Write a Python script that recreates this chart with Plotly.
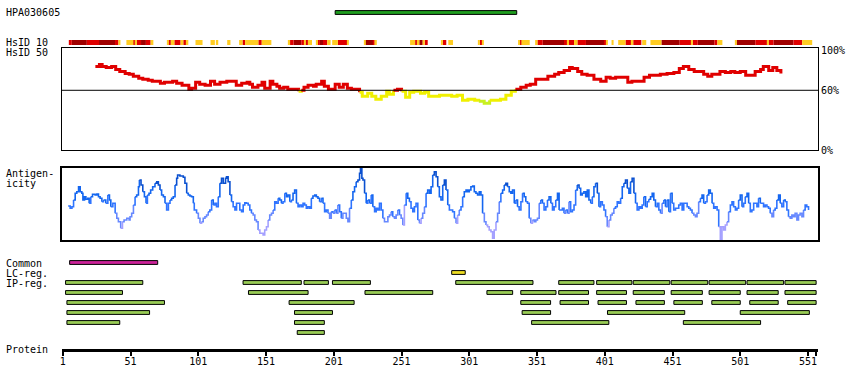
import plotly.graph_objects as go

# ---------------- data ----------------
protein_length = 557
antigen_name = "HPA030605"
antigen_region = [202, 336]

tick_values = [1, 51, 101, 151, 201, 251, 301, 351, 401, 451, 501, 551]

# HsID 10 identity track: (start, end, level) level: D=high, R=medium, Y=low
hsid10_segments = [
    (5.4, 7.6, "R"), (7.6, 18.7, "D"), (18.7, 27.7, "R"), (27.7, 39.5, "D"), (39.5, 42, "R"), (42, 43.5, "Y"),
    (47.9, 53.1, "Y"), (53.1, 54.2, "R"), (54.2, 55.5, "Y"), (55.5, 58.7, "R"), (58.7, 62.3, "D"), (62.3, 65.8, "R"), (65.8, 67.8, "Y"),
    (78.1, 78.8, "Y"), (78.8, 80.7, "R"), (80.7, 83.3, "Y"), (83.3, 87.9, "R"), (87.9, 89.9, "Y"), (89.9, 92.3, "R"), (92.3, 93.6, "Y"),
    (98.9, 104.1, "Y"), (110, 113.2, "Y"), (114.4, 115.7, "Y"), (122.3, 124.7, "Y"),
    (131.1, 133.6, "Y"), (133.6, 135.5, "R"), (135.5, 145.3, "Y"), (145.3, 147.8, "R"), (147.8, 154.9, "Y"),
    (167.6, 168.7, "Y"), (168.7, 171.3, "R"), (171.3, 177, "D"), (177, 179.4, "R"), (179.4, 180, "Y"), (180, 181.9, "R"), (181.9, 184.9, "Y"),
    (188, 189.3, "Y"), (189.3, 190.5, "R"), (190.5, 193, "D"), (193, 196.1, "R"), (196.1, 198.6, "Y"), (199.8, 204, "Y"), (204, 210.9, "R"), (210.9, 211.6, "Y"),
    (223.4, 224.1, "Y"), (224.1, 230, "D"), (230, 231, "R"), (231, 232.7, "Y"),
    (257.3, 261, "Y"), (261, 262.9, "R"), (262.9, 264.1, "Y"), (264.1, 266.6, "D"), (266.6, 268.1, "Y"), (268.1, 270.3, "R"),
    (280.1, 281.4, "Y"), (281.4, 284, "R"), (285.5, 289, "Y"),
    (307.9, 308.8, "Y"), (308.8, 310.8, "R"), (310.8, 311.5, "Y"),
    (337, 338.5, "Y"), (338.5, 339.5, "R"), (339.5, 345.6, "Y"),
    (349.6, 351.3, "Y"), (351.3, 355.2, "R"), (355.2, 370.9, "D"), (370.9, 373.4, "R"), (373.4, 374.6, "Y"), (374.6, 378.3, "R"),
    (378.3, 380.8, "Y"), (380.8, 387.1, "R"), (387.1, 400.9, "D"), (400.9, 402.3, "R"), (402.3, 403.3, "Y"), (406, 407.5, "Y"),
    (410.9, 416.3, "Y"), (416.3, 420.7, "R"), (420.7, 422, "Y"), (422, 428, "R"), (428.6, 431.6, "Y"),
    (434.7, 442.8, "Y"), (442.8, 456.3, "D"), (456.3, 464.9, "R"), (464.9, 465.9, "Y"), (465.9, 469.6, "R"), (469.6, 481.9, "D"),
    (481.9, 484.1, "R"), (484.1, 487.8, "Y"),
    (497.3, 498.3, "Y"), (498.3, 512.1, "D"), (512.1, 520.7, "R"), (520.7, 521.9, "Y"), (521.9, 525.5, "R"), (525.5, 540.3, "D"),
    (540.3, 546.7, "R"), (546.7, 554.1, "Y"),
]

# HsID 50 identity (%)
hs_pos = [25, 28, 30, 33, 37, 40, 43, 47, 50, 53, 57, 60, 64, 67, 70, 73, 76, 80, 82, 85, 89, 91, 94, 96, 99,
          102, 106, 110, 113, 117, 122, 127, 129, 133, 137, 139, 141, 145, 148, 150, 154, 156, 159, 161, 164,
          167, 172, 175, 177, 179, 182, 186, 188, 192, 194, 197, 202, 205, 208, 211, 214, 218, 220, 222, 226,
          229, 232, 236, 240, 242, 245, 248, 251, 254, 257, 260, 263, 265, 268, 271, 275, 279, 283, 288, 292,
          296, 300, 305, 308, 312, 316, 321, 324, 328, 332, 335, 339, 343, 346, 350, 355, 359, 364, 367, 371,
          375, 377, 381, 384, 388, 393, 398, 402, 405, 409, 414, 418, 421, 426, 430, 434, 437, 442, 447, 452,
          456, 459, 463, 467, 470, 474, 477, 480, 484, 486, 490, 494, 497, 501, 505, 510, 512, 516, 518, 522,
          525, 528, 531]
hs_val = [84, 86, 84, 83, 84, 81, 79, 77, 76, 74, 72, 71, 70, 69, 69, 67, 68, 68, 69, 67, 65, 65, 61, 62, 68,
          66, 65, 69, 66, 68, 69, 69, 65, 67, 68, 66, 63, 65, 68, 62, 69, 66, 64, 62, 63,
          61, 61, 59, 60, 63, 65, 64, 66, 69, 64, 61, 66, 63, 66, 62, 61, 61, 58, 54, 57,
          54, 51, 54, 59, 56, 60, 61, 59, 53, 58, 59, 59, 57, 58, 54, 54, 55, 55, 54, 55,
          50, 51, 50, 49, 47, 50, 50, 51, 55, 59, 61, 63, 65, 66, 71, 71, 74, 76, 78, 80,
          83, 82, 79, 76, 75, 71, 69, 73, 72, 73, 73, 68, 69, 69, 73, 75, 75, 76, 77, 78,
          82, 84, 81, 79, 79, 76, 74, 76, 76, 79, 78, 79, 78, 79, 75, 75, 79, 81, 84, 80,
          83, 80, 77]

# Antigenicity profile (arbitrary units, 0-72)
ag_pos = [4.9, 6.4, 7.7, 8.9, 10.1, 11.3, 12.6, 13.8, 15, 15.8, 17, 18, 19.4, 20.4, 21.6, 22.9, 24.8, 26.1, 27.3, 28.5,
          29.8, 31, 32.7, 34.2, 35.4, 36.4, 37.9, 39.6, 40.8, 42, 43.7, 45, 46.2, 48.2, 49.9, 50.6, 51.8, 53.1, 54.3, 55.5,
          56.8, 57.5, 58.7, 60, 61.2, 62.4, 63.4, 64.6, 65.8, 67.3, 69, 70.3, 71.5, 72.7, 73.9, 75.2, 76.4, 77.6, 78.9, 80.1,
          81.3, 82.5, 83.8, 85, 85.7, 87.4, 89.9, 91.1, 92.4, 93.6, 94.8, 96, 97.3, 98, 99.7, 101, 102.2, 103.4, 104.6, 105.9,
          107.1, 108.3, 109.5, 110.8, 112, 113.2, 114.4, 115.7, 116.9, 118.1, 119.4, 121.1, 121.8, 123, 124.3, 125.5, 126.7, 128, 129.2, 130.4,
          131.6, 132.9, 134.1, 135.3, 136.5, 137.8, 139, 140.2, 141.5, 142.7, 143.9, 145.1, 146.4, 148.8, 150, 151.3, 152.5, 153.7, 155, 156.2,
          157.4, 158.6, 159.9, 161.1, 162.3, 163.5, 164.8, 166, 167.2, 168.5, 169.7, 170.9, 172.1, 173.4, 174.6, 175.8, 177.1,
          178.3, 179.5, 180.7, 181.9, 183.2, 184.4, 185.6, 186.9, 188.1, 189.3, 190.5, 191.8, 193, 194.2, 195.4, 196.7, 197.9, 199.1, 200.4,
          201.6, 202.8, 204, 205.3, 206.5, 207.7, 208.9, 210.2, 211.4, 212.6, 213.9, 215.1, 216.3, 217.5, 218.8, 220, 220.7, 221.7, 222.5,
          223.7, 224.9, 226.1, 227.4, 228.6, 229.8, 231.1, 232.3, 233.5, 234.7, 236, 237.2, 238.4, 239.6, 240.9, 242.1, 243.3, 244.5, 245.8,
          247, 248.2, 249.5, 250.7, 251.9, 253.1, 254.4, 255.6, 256.8, 258, 259.3, 260.5, 261.7, 263, 264.2, 265.4, 266.6, 267.9, 269.1,
          270.3, 271.6, 272.8, 274, 275.2, 276.5, 277.7, 278.9, 280.1, 281.4, 282.6, 283.8, 285.1, 286.3, 287.5, 288.7, 290, 291.2, 292.4,
          293.6, 294.9, 296.1, 297.3, 298.6, 299.8, 301, 302.2, 303.5, 304.7, 305.9, 307.1, 308.4, 309.6, 310.8, 312.1, 313.3, 314.5, 315.7,
          317, 318.2, 319.4, 320.7, 321.9, 323.1, 324.3, 325.6, 326.8, 328, 329.2, 330.5, 331.7, 332.9, 334.2, 335.4, 336.6, 337.8, 339.1,
          340.3, 341.5, 342.7, 344, 345.2, 346.4, 347.6, 348.9, 350.1, 351.3, 352.6, 353.8, 355, 356.2, 357.5, 358.7, 359.9, 361.2, 362.4,
          363.6, 364.8, 366.1, 367.3,
          369.7, 370.9, 372.1, 373.4, 374.6, 375.8, 377.1, 378.3, 379.5, 380.7, 382, 383.2, 384.4, 385.6, 386.9, 388.1, 389.3, 390.6, 391.8,
          393, 394.2, 395.5, 396.7, 397.9, 399.2, 400.4, 401.6, 402.8, 404.1, 405.3, 406.5, 407.7, 409, 410.2, 411.4, 412.7, 413.9, 415.1,
          416.3, 417.6, 418.8, 420, 421.2, 422.5, 423.7, 424.9, 426.2, 427.4, 428.6, 429.8, 431.1, 432.3, 433.5, 434.8, 436, 437.2, 438.4,
          439.7, 440.9, 442.1, 443.3, 444.6, 445.8, 447, 448.3, 449.5, 450.7, 451.9, 453.2, 454.4, 455.6, 456.8, 458.1, 459.3, 460.5, 461.8,
          463, 464.2, 465.4, 466.7, 467.9, 469.1, 470.3, 471.6, 472.8, 474, 475.3, 476.5, 477.7, 478.9, 480.2, 481.4, 482.6, 483.9, 485.1,
          486.3, 487.5, 488.8, 490, 491.2, 492.4, 493.7, 494.9, 496.1, 497.4, 498.6, 499.8, 501, 502.3, 503.5, 504.7, 506, 507.2, 508.4,
          509.6, 510.9, 512.1, 513.3, 514.5, 515.8, 517, 518.2, 519.4, 520.7, 521.9, 523.1, 524.4, 525.6, 526.8, 528, 529.3, 530.5, 531.7,
          533, 534.2, 535.4, 536.6, 537.9, 539.1, 540.3, 541.5, 542.8, 544, 545.2, 546.5, 547.7, 548.9, 550.1, 551.4]
ag_val = [34, 31.7, 33.3, 40, 46.7, 48.3, 53.3, 48.3, 46.7, 40, 43.3, 40.7, 41.7, 36.7, 43.3, 45.7, 45, 46, 43.3, 41.7,
          38.3, 40, 36.7, 45, 40, 33.3, 36.7, 26.7, 21.7, 18.3, 11.7, 18.3, 20, 21.7, 20, 23.3, 26.7, 35, 43.3, 45,
          53.3, 60, 55, 48.3, 43.3, 36.7, 45, 46.7, 50, 53.3, 56.7, 58.3, 55, 50, 45, 43.3, 36.7, 30, 36.7, 40,
          41.7, 43.3, 55, 61.7, 65, 64, 62.7, 56.7, 46.7, 45, 44, 43.3, 36.7, 30, 26.7, 21.7, 16.7, 18.3, 21.7, 23.3,
          25, 28.3, 30, 40, 35, 36.7, 33.3, 43.3, 56.7, 61.7, 56.7, 61.7, 63.3, 58.3, 45, 38.3, 33.3, 30, 36.7, 36.7,
          30, 28.3, 35, 37.3, 36.7, 35, 30, 26.7, 25, 20, 18.3, 10, 6.7, 5, 10, 13.3, 20, 25, 26.7, 30,
          38.3, 36.7, 41.7, 40, 36.7, 38.3, 46.7, 43.3, 45, 38.3, 40, 46.7, 50, 36.7, 33.3, 35, 33.3,
          36.7, 35, 31.7, 33.3, 31.7, 41.7, 44, 45, 43.3, 41.7, 38.3, 41.7, 36.7, 28.3, 30, 26.7, 21.7, 28.3, 26.7,
          30, 26.7, 35, 28.3, 21.7, 26.7, 26.7, 21.7, 18.3, 31.7, 40, 48.3, 53.3, 58.3, 60, 66.7, 71.7, 61.7, 60,
          46.7, 36.7, 40, 36.7, 45, 33.3, 28.3, 31.7, 30, 36.7, 30, 21.7, 18.3, 18.3, 23.3, 25, 28.3, 23.3, 21.7,
          25, 30, 25, 21.7, 15, 35, 46.7, 41.7, 38.3, 31.7, 28.3, 33.3, 36.7, 20, 16.7, 21.7, 26.7, 33.3, 46.7,
          50, 46.7, 53.3, 65, 68.3, 63.3, 53.3, 43.3, 40, 55, 60, 50, 35, 30, 30, 28.3, 21.7, 16.7, 25,
          30, 33.3, 43.3, 48.3, 50, 48.3, 50, 53.3, 54, 48.3, 46.7, 45, 48.3, 45, 26.7, 18.3, 15, 13.3, 10,
          8.3, 1.7, 10, 18.3, 26.7, 38.3, 46.7, 50, 55, 56.7, 53.3, 48.3, 46.7, 50, 36.7, 40, 33.3, 30, 38.3,
          46.7, 43.3, 38.3, 36.7, 21.7, 16.7, 20, 18.3, 20, 21.7, 36.7, 40, 36.7, 30, 33.3, 40, 43.3, 36.7, 30,
          33.3, 40, 46.7, 30,
          31.7, 26.7, 30, 26.7, 38.3, 28.3, 30, 35, 50, 55, 51.7, 45, 46.7, 48.3, 43.3, 50, 40, 36.7, 43.3,
          53.3, 56.7, 46.7, 33.3, 38.3, 35, 30, 23.3, 13.3, 20, 25, 26.7, 31.7, 33.3, 38.3, 36.7, 41.7, 53.3, 56.7,
          60, 51.7, 46.7, 58.3, 61.7, 46.7, 36.7, 30, 33.3, 31.7, 35, 43.3, 33.3, 38.3, 40.7, 43.3, 46.7, 40, 33.3,
          36.7, 30, 26.7, 36.7, 40, 33.3, 40, 28.3, 46.7, 36.7, 30, 31.7, 31.7, 35, 36.7, 30, 36.7, 36.7, 33.3,
          31.7, 30, 26.7, 25, 23.3, 26.7, 38.3, 41.7, 45, 36.7, 38.3, 45, 50, 46.7, 36.7, 31.7, 33.3, 30, 13.3,
          0, 13.3, 10, 15, 18.3, 28.3, 35, 38.3, 33.3, 30, 31.7, 40, 45, 33.3, 36.7, 43.3, 46.7, 36.7, 28.3,
          30, 36.7, 36.7, 33.3, 41.7, 36.7, 36.7, 33.3, 35, 33.3, 31.7, 26.7, 23.3, 30, 31.7, 40, 45, 36.7, 33.3,
          40, 38.3, 30, 23.3, 21.7, 25, 23.3, 26.7, 20, 25, 26.7, 23.3, 30, 35, 33.3, 30]

common_regions = [(6, 71)]
lc_regions = [(288, 298)]
ip_rows = [
    [(3, 60), (134, 177), (179, 197), (200, 228), (291, 348), (367, 393), (395, 421), (422, 449), (450, 477), (478, 505), (506, 533), (534, 557)],
    [(3, 45), (138, 182), (224, 274), (314, 333), (339, 365), (367, 389), (395, 417), (422, 445), (450, 473), (478, 501), (506, 529), (534, 557)],
    [(4, 76), (168, 216), (339, 361), (368, 389), (396, 417), (424, 445), (452, 473), (480, 501), (508, 529), (536, 557)],
    [(4, 65), (172, 200), (340, 361), (403, 460), (501, 552)],
    [(4, 43), (172, 194), (347, 404), (459, 516)],
    [(174, 194)],
]

# ---------------- layout constants (pixels) ----------------
W, H = 850, 390
PX_PER_RES = 1.358
RES1_PX = 61
BOX_L, BOX_R = 60, 818
x_range = [1 - (RES1_PX - BOX_L) / PX_PER_RES, 1 + (BOX_R - RES1_PX) / PX_PER_RES]
x_domain = [BOX_L / W, BOX_R / W]
AXIS_PX = 349

def pdom(top_px, bottom_px):
    return [1 - bottom_px / H, 1 - top_px / H]

FONT = "DejaVu Sans Mono"
fig = go.Figure()

def hbars(rows_y, segs, color, width=3.8, line=1):
    base = [s for s, e in segs]
    length = [e - s for s, e in segs]
    fig.add_trace(go.Bar(orientation="h", y=[rows_y] * len(segs), x=length, base=base, width=width,
                         marker=dict(color=color, line=dict(color="black", width=line)),
                         xaxis="x", yaxis="y", hoverinfo="skip"))

# antigen bar
hbars(12.5, [tuple(antigen_region)], "#1f9e1f")
# HsID 10 track
lvl_color = {"D": "#a00000", "R": "#e00000", "Y": "#ffcc22"}
for lvl, col in lvl_color.items():
    segs = [(s, e) for s, e, l in hsid10_segments if l == lvl]
    hbars(42.5, segs, col, width=5, line=0)
# feature rows
hbars(262.5, common_regions, "#cc2299")
hbars(272.5, lc_regions, "#eedd22")
for i, row in enumerate(ip_rows):
    hbars(282.5 + 10 * i, row, "#99cc55")

# colored runs helper
def add_runs(xs, ys, colorfn, xa, ya, width):
    start = 0
    n = len(xs)
    for i in range(1, n + 1):
        if i == n or colorfn(ys[i]) != colorfn(ys[start]):
            end = min(i, n - 1)
            fig.add_trace(go.Scatter(x=xs[start:end + 1], y=ys[start:end + 1], mode="lines",
                                     line=dict(color=colorfn(ys[start]), width=width, shape="hv"),
                                     xaxis=xa, yaxis=ya, hoverinfo="skip"))
            start = i

def hs_color(v):
    if v >= 60:
        return "#e00000"
    if v >= 50:
        return "#f0f000"
    return "#c8f020"

def ag_color(v):
    if v >= 55:
        return "#0a50d0"
    if v >= 40:
        return "#1466f0"
    if v >= 28:
        return "#2f74ff"
    if v >= 18:
        return "#6688ff"
    return "#a4a0ff"

add_runs(hs_pos, hs_val, hs_color, "x2", "y2", 3)
add_runs(ag_pos, ag_val, ag_color, "x3", "y3", 1.6)

# 60 % reference line
fig.add_shape(type="line", xref="x2", yref="y2", x0=x_range[0], x1=x_range[1], y0=60, y1=60,
              line=dict(color="black", width=1))

# labels
labels = [("HPA030605", 12.5), ("HsID 10", 42.5), ("HsID 50", 52.5), ("Antigen-", 173), ("icity", 183.5),
          ("Common", 263), ("LC-reg.", 273), ("IP-reg.", 283), ("Protein", 349.5)]
for txt, ypx in labels:
    fig.add_annotation(text=txt, x=2 / W, y=1 - ypx / H, xref="paper", yref="paper", xanchor="left",
                       yanchor="middle", showarrow=False, font=dict(family=FONT, size=10, color="black"))

tickfont = dict(family=FONT, size=10, color="black")
fig.update_layout(
    width=W, height=H, margin=dict(l=0, r=0, t=0, b=0), paper_bgcolor="white", plot_bgcolor="white",
    showlegend=False, barmode="overlay",
    xaxis=dict(domain=x_domain, range=x_range, anchor="y", showline=True, linewidth=3, linecolor="black",
               ticks="outside", ticklen=4, tickwidth=2, tickcolor="black", ticklabelstandoff=-3,
               tickvals=tick_values + [protein_length], ticktext=[str(t) for t in tick_values] + [""],
               tickfont=tickfont, showgrid=False, zeroline=False),
    yaxis=dict(domain=pdom(0, AXIS_PX), range=[AXIS_PX, 0], visible=False, anchor="x"),
    xaxis2=dict(domain=x_domain, range=x_range, anchor="y2", showline=True, mirror=True, linewidth=1,
                linecolor="black", showticklabels=False, ticks="", showgrid=False, zeroline=False),
    yaxis2=dict(domain=pdom(48, 150), range=[0, 102.5], anchor="x2", side="right", showline=True, mirror=True,
                linewidth=1, linecolor="black", tickvals=[0, 60, 100], ticktext=["0%", "60%", "100%"],
                ticks="", tickfont=tickfont, showgrid=False, zeroline=False, automargin=False),
    xaxis3=dict(domain=x_domain, range=x_range, anchor="y3", showline=True, mirror=True, linewidth=2,
                linecolor="black", showticklabels=False, ticks="", showgrid=False, zeroline=False),
    yaxis3=dict(domain=pdom(168, 240), range=[0, 72], anchor="x3", showline=True, mirror=True, linewidth=2,
                linecolor="black", showticklabels=False, ticks="", showgrid=False, zeroline=False),
)

fig.write_html("out.html", config={"displayModeBar": False},
               post_script="document.body.style.margin='0';document.body.style.overflow='hidden';")
